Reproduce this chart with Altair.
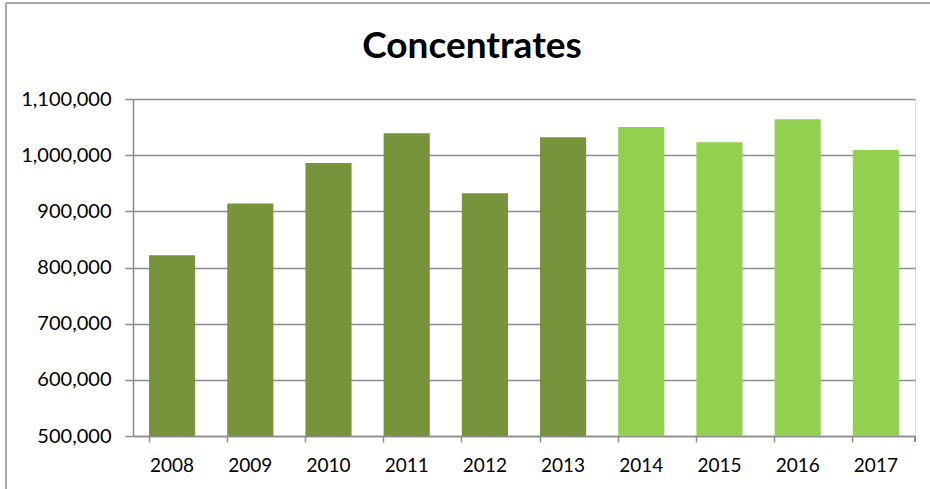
import altair as alt
import pandas as pd

years = ["2008", "2009", "2010", "2011", "2012", "2013", "2014", "2015", "2016", "2017"]
values = [822000, 914000, 986000, 1039000, 932000, 1032000, 1050000, 1023000, 1064000, 1009000]
groups = ["old"] * 6 + ["new"] * 4

df = pd.DataFrame({"year": years, "value": values, "group": groups})

FONT = "Lato"
GRID = "#8c8c8c"

x = alt.X("year:N", sort=years, title=None,
          scale=alt.Scale(paddingInner=0.41, paddingOuter=0.205),
          axis=alt.Axis(labelAngle=0, labelFont=FONT, labelFontSize=19, labelColor="#000",
                        labelPadding=14, tickSize=6, tickColor=GRID, domainColor=GRID,
                        domainWidth=1.5, tickWidth=1.5, bandPosition=0, grid=False))

bars = alt.Chart(df).mark_bar(clip=True).encode(
    x=x,
    y=alt.Y("value:Q", title=None,
            scale=alt.Scale(domain=[500000, 1100000], nice=False, zero=False),
            axis=alt.Axis(values=[500000, 600000, 700000, 800000, 900000, 1000000, 1100000],
                          format=",d", labelFont=FONT, labelFontSize=20, labelColor="#000",
                          labelPadding=14, tickSize=8, tickColor=GRID, tickWidth=1.5,
                          domainColor=GRID, domainWidth=1.5, gridColor=GRID, gridWidth=1.5)),
    color=alt.Color("group:N", scale=alt.Scale(domain=["old", "new"], range=["#77933C", "#92D050"]),
                    legend=None),
)

end_tick = alt.Chart(df).mark_rule(color=GRID, strokeWidth=1.5).encode(
    x=alt.value(782), y=alt.value(337), y2=alt.value(343)
)

border = alt.Chart(df).mark_rule(color="#a8a8a8", strokeWidth=1.5, clip=False).encode(
    x=alt.value(-127), y=alt.value(-96), y2=alt.value(390)
)
border_top = alt.Chart(df).mark_rule(color="#a8a8a8", strokeWidth=1.5, clip=False).encode(
    x=alt.value(-127), x2=alt.value(797), y=alt.value(-96)
)

chart = alt.layer(bars, end_tick, border, border_top).properties(
    width=782, height=337,
    autosize=alt.AutoSizeParams(type="none"),
    padding={"left": 133, "top": 99, "right": 15, "bottom": 53},
    title=alt.Title("Concentrates", font=FONT, fontSize=37, fontWeight="bold", color="#000",
                    anchor="middle", dx=-52, offset=-64),
).configure_view(stroke=None).configure(background="white")

chart.save("out.html", embed_options={"renderer": "svg", "actions": False})
